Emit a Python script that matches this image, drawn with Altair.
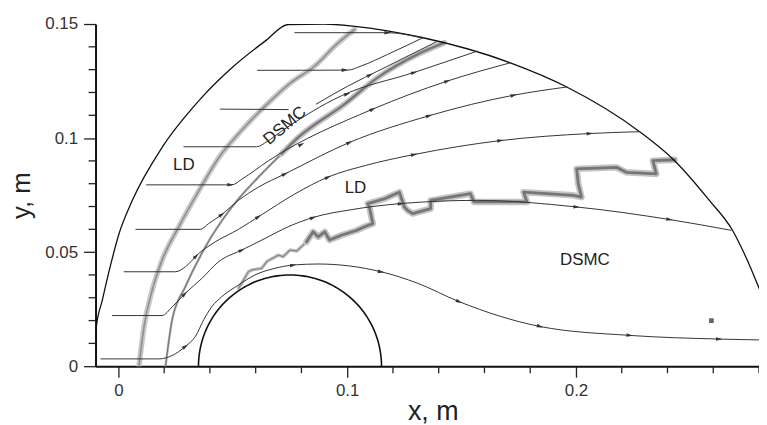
import math
import altair as alt
import numpy as np
import pandas as pd

# ---------------- axes ----------------
x_domain = [-0.01, 0.28]
y_domain = [0.0, 0.15]
x_major = [0.0, 0.1, 0.2]
x_minor = [0.02, 0.04, 0.06, 0.08, 0.12, 0.14, 0.16, 0.18, 0.22, 0.24, 0.26, 0.28]
y_major = [0.0, 0.05, 0.1, 0.15]
y_minor = [0.01, 0.02, 0.03, 0.04, 0.06, 0.07, 0.08, 0.09, 0.11, 0.12, 0.13, 0.14]

# ---------------- outer boundary of the computational domain ----------------
outer_x = [-0.0100, -0.0098, -0.0070, -0.0040, 0.0003, 0.0061, 0.0191, 0.0351,
           0.0496, 0.0641, 0.0742, 0.0900, 0.1032, 0.1322, 0.1713, 0.1960,
           0.2278, 0.2431, 0.2583, 0.2684, 0.2742, 0.2815]
outer_y = [0.0000, 0.0160, 0.0291, 0.0420, 0.0582, 0.0727, 0.0959, 0.1163,
           0.1308, 0.1425, 0.1498, 0.1500, 0.1490, 0.1442, 0.1330, 0.1224,
           0.1028, 0.0901, 0.0727, 0.0596, 0.0480, 0.0305]

# ---------------- body (cylinder) ----------------
body_cx = 0.075
body_cy = 0.0
body_r = 0.04

# ---------------- streamlines ----------------
s1_x = [-0.0077, 0.0177, 0.0235, 0.0293, 0.0337, 0.0373, 0.0409, 0.0452, 0.0525,
        0.0597, 0.0684, 0.0770, 0.0873, 0.1148, 0.1307, 0.1489, 0.1843, 0.2235,
        0.2626, 0.2816]
s1_y = [0.0032, 0.0032, 0.0047, 0.0087, 0.0131, 0.0204, 0.0262, 0.0305, 0.0356,
        0.0400, 0.0429, 0.0444, 0.0448, 0.0414, 0.0364, 0.0283, 0.0174, 0.0135,
        0.0119, 0.0115]
s2_x = [-0.0026, 0.0191, 0.0235, 0.0293, 0.0365, 0.0438, 0.0539, 0.0641, 0.0728,
        0.0858, 0.1017, 0.1235, 0.1568, 0.2003, 0.2409, 0.2677]
s2_y = [0.0222, 0.0222, 0.0260, 0.0320, 0.0385, 0.0458, 0.0509, 0.0560, 0.0605,
        0.0654, 0.0686, 0.0713, 0.0727, 0.0698, 0.0643, 0.0596]
s3_x = [0.0025, 0.0250, 0.0293, 0.0351, 0.0423, 0.0525, 0.0620, 0.0771, 0.0916,
        0.1080, 0.1293, 0.1670, 0.2061, 0.2278]
s3_y = [0.0414, 0.0414, 0.0436, 0.0494, 0.0545, 0.0600, 0.0660, 0.0755, 0.0829,
        0.0880, 0.0928, 0.0989, 0.1020, 0.1028]
s4_x = [0.0076, 0.0358, 0.0394, 0.0452, 0.0525, 0.0612, 0.0728, 0.1010, 0.1358,
        0.1728, 0.1960]
s4_y = [0.0600, 0.0600, 0.0625, 0.0665, 0.0727, 0.0785, 0.0843, 0.0981, 0.1098,
        0.1188, 0.1224]
s5_x = [0.0123, 0.0496, 0.0540, 0.0655, 0.1112, 0.1438, 0.1713]
s5_y = [0.0795, 0.0795, 0.0820, 0.0900, 0.1127, 0.1250, 0.1330]
s6_x = [0.0286, 0.0604, 0.0650, 0.0713, 0.0974, 0.1293, 0.1568]
s6_y = [0.0962, 0.0962, 0.0985, 0.1030, 0.1185, 0.1288, 0.1381]
s7a_x = [0.0445, 0.0742]
s7a_y = [0.1127, 0.1125]
s7b_x = [0.0865, 0.1003, 0.1148, 0.1390]
s7b_y = [0.1149, 0.1228, 0.1301, 0.1422]
s8_x = [0.0608, 0.1003, 0.1061, 0.1177, 0.1329]
s8_y = [0.1297, 0.1298, 0.1316, 0.1367, 0.1439]
s9_x = [0.0771, 0.1177, 0.1329]
s9_y = [0.1462, 0.1462, 0.1439]

# arrow positions (x) along each streamline
arrows_at = {
    "s1": [0.0293, 0.0764, 0.1148, 0.1489, 0.1843, 0.2235, 0.2626],
    "s2": [0.0290, 0.0539, 0.0851, 0.1235, 0.2003, 0.2409],
    "s3": [0.0340, 0.0612, 0.0916, 0.1293, 0.1670, 0.2061],
    "s4": [0.0452, 0.0728, 0.1010, 0.1358, 0.1728],
    "s5": [0.0490, 0.0800, 0.1112, 0.1438],
    "s6": [0.1000, 0.1293],
    "s7b": [0.1100],
    "s8": [0.0990],
    "s9": [0.1177],
}

# ---------------- interface bands (gray) ----------------
band_a_x = [0.0090, 0.0112, 0.0148, 0.0191, 0.0264, 0.0355, 0.0440, 0.0535,
            0.0641, 0.0750, 0.0858, 0.0960, 0.1032]
band_a_y = [0.0000, 0.0174, 0.0334, 0.0465, 0.0611, 0.0775, 0.0916, 0.1030,
            0.1140, 0.1240, 0.1316, 0.1417, 0.1476]
band_b_x = [0.0206, 0.0235, 0.0293, 0.0380, 0.0496, 0.0612, 0.0713, 0.0786,
            0.0989, 0.1133, 0.1307, 0.1423]
band_b_y = [0.0000, 0.0204, 0.0349, 0.0523, 0.0698, 0.0829, 0.0931, 0.1003,
            0.1149, 0.1265, 0.1367, 0.1417]
band_b_split = 6
band_c_x = [0.0525, 0.0539, 0.0568, 0.0583, 0.0626, 0.0650, 0.0699, 0.0720,
            0.0750, 0.0780, 0.0822, 0.0851, 0.0873, 0.0902, 0.0923, 0.0974,
            0.1040, 0.1076, 0.1112, 0.1097, 0.1090, 0.1163, 0.1228, 0.1250,
            0.1264, 0.1286, 0.1365, 0.1365, 0.1539, 0.1554, 0.1786, 0.1771,
            0.1989, 0.2024, 0.2010, 0.2003, 0.2177, 0.2220, 0.2351, 0.2336,
            0.2431]
band_c_y = [0.0342, 0.0364, 0.0414, 0.0422, 0.0429, 0.0460, 0.0487, 0.0480,
            0.0509, 0.0505, 0.0545, 0.0589, 0.0567, 0.0589, 0.0553, 0.0574,
            0.0595, 0.0611, 0.0625, 0.0698, 0.0713, 0.0734, 0.0763, 0.0698,
            0.0683, 0.0669, 0.0691, 0.0727, 0.0756, 0.0720, 0.0720, 0.0763,
            0.0749, 0.0741, 0.0800, 0.0865, 0.0872, 0.0850, 0.0843, 0.0901,
            0.0905]
band_c_split = 10
blob_x = [0.2592]
blob_y = [0.0200]

# ---------------- labels ----------------
label_text = ["LD", "LD", "DSMC", "DSMC"]
label_x = [0.0286, 0.1036, 0.2039, 0.0728]
label_y = [0.0884, 0.0780, 0.0467, 0.1054]
label_angle = [0, 0, 0, 320]

# ================= build =================
W, H = 667, 344
KX = W / (x_domain[1] - x_domain[0])
KY = H / (y_domain[1] - y_domain[0])
FONT = "Liberation Sans"
TICK = "#222"

xsc = alt.Scale(domain=x_domain, nice=False, zero=False)
ysc = alt.Scale(domain=y_domain, nice=False, zero=False)

x_axis = alt.Axis(
    values=x_major, grid=False, format="",
    labelExpr="datum.value + ''",
    tickSize=11, tickWidth=1.3, tickColor=TICK, domainColor="#111", domainWidth=2,
    labelPadding=5, labelFont=FONT, labelFontSize=17, labelColor="#333",
    labelOverlap=False, labelFlush=False, labelBound=False,
    title="x, m", titleFont=FONT, titleFontSize=27, titleFontWeight="normal",
    titleColor="#222", titleX=339, titleY=54, titleAlign="center",
    titleBaseline="alphabetic",
)
y_axis = alt.Axis(
    values=y_major, grid=False,
    labelExpr="datum.value + ''",
    tickSize=12, tickWidth=1.3, tickColor=TICK, domainColor="#111", domainWidth=2,
    labelPadding=6, labelFont=FONT, labelFontSize=17, labelColor="#333",
    labelOverlap=False, labelFlush=False, labelBound=False,
    title="y, m", titleFont=FONT, titleFontSize=26, titleFontWeight="normal",
    titleColor="#222", titleX=-66, titleY=H / 2, titleAngle=270,
    titleAlign="center", titleBaseline="alphabetic",
)


def X():
    return alt.X("x:Q", scale=xsc, axis=x_axis, title="x, m")


def Y():
    return alt.Y("y:Q", scale=ysc, axis=y_axis, title="y, m")


def frame(xs, ys, name):
    return pd.DataFrame({"x": xs, "y": ys, "id": name, "ord": range(len(xs))})


def lines(df, color, width, interp="monotone"):
    return alt.Chart(df).mark_line(
        color=color, strokeWidth=width, interpolate=interp, clip=True,
        strokeCap="round", strokeJoin="round"
    ).encode(x=X(), y=Y(), detail="id:N", order="ord:Q")


streams = {
    "s1": (s1_x, s1_y), "s2": (s2_x, s2_y), "s3": (s3_x, s3_y),
    "s4": (s4_x, s4_y), "s5": (s5_x, s5_y), "s6": (s6_x, s6_y),
    "s7a": (s7a_x, s7a_y), "s7b": (s7b_x, s7b_y), "s8": (s8_x, s8_y),
    "s9": (s9_x, s9_y),
}
stream_df = pd.concat([frame(v[0], v[1], k) for k, v in streams.items()])

arrow_rows = []
for name, positions in arrows_at.items():
    xs, ys = streams[name]
    for a in positions:
        i = max(0, min(len(xs) - 2, int(np.searchsorted(xs, a)) - 1))
        t = (a - xs[i]) / (xs[i + 1] - xs[i])
        ay = ys[i] + t * (ys[i + 1] - ys[i])
        dxp = (xs[i + 1] - xs[i]) * KX
        dyp = -(ys[i + 1] - ys[i]) * KY
        ang = math.degrees(math.atan2(dyp, dxp)) % 360
        arrow_rows.append({"x": a, "y": ay, "ang": ang})
arrow_df = pd.DataFrame(arrow_rows)

theta = np.linspace(0, np.pi, 91)
body_df = frame(list(body_cx + body_r * np.cos(theta)),
                list(body_cy + body_r * np.sin(theta)), "body")
outer_df = frame(outer_x, outer_y, "outer")

band_a_df = frame(band_a_x, band_a_y, "a")
band_b_lo = frame(band_b_x[:band_b_split + 1], band_b_y[:band_b_split + 1], "blo")
band_b_hi = frame(band_b_x[band_b_split:], band_b_y[band_b_split:], "bhi")
band_c_lo = frame(band_c_x[:band_c_split + 1], band_c_y[:band_c_split + 1], "clo")
band_c_hi = frame(band_c_x[band_c_split:], band_c_y[band_c_split:], "chi")

# minor ticks (short, outside the plot)
minor_x_ticks = alt.Chart(pd.DataFrame({"x": x_minor})).mark_rule(
    color=TICK, strokeWidth=1.3
).encode(x=X(), y=alt.value(H), y2=alt.value(H + 7))
minor_y_ticks = alt.Chart(pd.DataFrame({"y": y_minor})).mark_rule(
    color=TICK, strokeWidth=1.3
).encode(y=Y(), x=alt.value(0), x2=alt.value(-7))

layers = [
    minor_x_ticks,
    minor_y_ticks,
    # bands
    lines(band_a_df, "#c9c9c9", 5.5),
    lines(band_a_df, "#8e8e8e", 1.6),
    lines(band_b_lo, "#b0b0b0", 2.4),
    lines(band_b_lo, "#777777", 1.1),
    lines(band_b_hi, "#c4c4c4", 6),
    lines(band_b_hi, "#787878", 2.4),
    lines(band_c_lo, "#c6c6c6", 3.5, "linear"),
    lines(band_c_lo, "#8a8a8a", 1.3, "linear"),
    lines(band_c_hi, "#c4c4c4", 6.5, "linear"),
    lines(band_c_hi, "#767676", 2.8, "linear"),
    alt.Chart(pd.DataFrame({"x": blob_x, "y": blob_y})).mark_square(
        size=22, color="#666", opacity=1, clip=True
    ).encode(x=X(), y=Y()),
    # boundary & body
    lines(outer_df, "#111", 1.3),
    lines(body_df, "#111", 1.6, "linear"),
    # streamlines
    lines(stream_df, "#333", 1.0),
    alt.Chart(arrow_df).mark_point(
        shape="M-1,-0.55L1,0L-1,0.55Z", filled=True, size=42, color="#333",
        opacity=1, clip=True
    ).encode(x=X(), y=Y(), angle=alt.Angle("ang:Q", scale=None)),
    # labels
    alt.Chart(pd.DataFrame({"t": label_text, "x": label_x, "y": label_y,
                            "a": label_angle})).mark_text(
        font=FONT, fontSize=17, color="#222", align="center", baseline="middle"
    ).encode(x=X(), y=Y(), text="t:N", angle=alt.Angle("a:Q", scale=None)),
]

chart = alt.layer(*layers).properties(
    width=W, height=H,
    autosize=alt.AutoSizeParams(type="none"),
    padding={"left": 88, "top": 15, "right": 0, "bottom": 58},
).configure(background="white").configure_view(stroke=None)

chart.save("out.html", embed_options={"renderer": "svg", "actions": False})
